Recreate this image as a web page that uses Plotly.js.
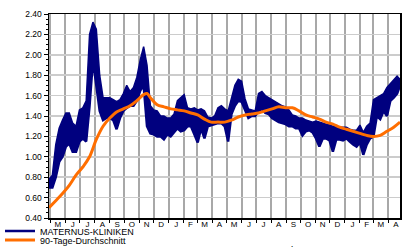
<!DOCTYPE html>
<html>
<head>
<meta charset="utf-8">
<script src="https://cdn.plot.ly/plotly-3.0.1.min.js"></script>
<style>html,body{margin:0;padding:0;background:#fff;}#chart{width:418px;height:247px;}</style>
</head>
<body>
<div id="chart"></div>
<script>
const weeks = ['2009-04-28','2009-05-05','2009-05-12','2009-05-19','2009-05-26','2009-06-02','2009-06-09','2009-06-16','2009-06-23','2009-06-30',
'2009-07-07','2009-07-14','2009-07-21','2009-07-28','2009-08-04','2009-08-11','2009-08-18','2009-08-25','2009-09-01','2009-09-08',
'2009-09-15','2009-09-22','2009-09-29','2009-10-06','2009-10-13','2009-10-20','2009-10-27','2009-11-03','2009-11-10','2009-11-17',
'2009-11-24','2009-12-01','2009-12-08','2009-12-15','2009-12-22','2009-12-29','2010-01-05','2010-01-12','2010-01-19','2010-01-26',
'2010-02-02','2010-02-09','2010-02-16','2010-02-23','2010-03-02','2010-03-09','2010-03-16','2010-03-23','2010-03-30','2010-04-06',
'2010-04-13','2010-04-20','2010-04-27','2010-05-04','2010-05-11','2010-05-18','2010-05-25','2010-06-01','2010-06-08','2010-06-15',
'2010-06-22','2010-06-29','2010-07-06','2010-07-13','2010-07-20','2010-07-27','2010-08-03','2010-08-10','2010-08-17','2010-08-24',
'2010-08-31','2010-09-07','2010-09-14','2010-09-21','2010-09-28','2010-10-05','2010-10-12','2010-10-19','2010-10-26','2010-11-02',
'2010-11-09','2010-11-16','2010-11-23','2010-11-30','2010-12-07','2010-12-14','2010-12-21','2010-12-28','2011-01-04','2011-01-11',
'2011-01-18','2011-01-25','2011-02-01','2011-02-08','2011-02-15','2011-02-22','2011-03-01','2011-03-08','2011-03-15','2011-03-22',
'2011-03-29','2011-04-05','2011-04-12','2011-04-19','2011-04-25'];

const priceHigh = [0.78,0.82,1.12,1.28,1.36,1.43,1.43,1.33,1.30,1.46,
1.48,1.55,2.20,2.32,2.25,1.80,1.58,1.58,1.58,1.56,
1.54,1.56,1.62,1.70,1.64,1.68,1.78,1.95,2.08,1.90,
1.50,1.46,1.45,1.40,1.40,1.38,1.38,1.42,1.55,1.58,
1.61,1.48,1.47,1.48,1.46,1.47,1.45,1.39,1.38,1.40,
1.48,1.50,1.47,1.45,1.58,1.70,1.76,1.74,1.57,1.47,
1.46,1.45,1.62,1.64,1.60,1.58,1.56,1.54,1.52,1.50,
1.49,1.46,1.41,1.40,1.38,1.38,1.36,1.35,1.34,1.35,
1.34,1.33,1.32,1.31,1.30,1.30,1.29,1.29,1.29,1.27,
1.26,1.26,1.31,1.24,1.30,1.33,1.56,1.58,1.60,1.62,
1.68,1.72,1.75,1.79,1.76];

const priceLow = [0.70,0.70,0.80,0.95,1.00,1.10,1.13,1.05,1.05,1.15,
1.18,1.15,1.50,1.95,1.70,1.45,1.36,1.38,1.38,1.36,
1.27,1.38,1.45,1.48,1.50,1.50,1.55,1.65,1.70,1.30,
1.23,1.22,1.20,1.20,1.17,1.22,1.20,1.24,1.28,1.25,
1.26,1.30,1.30,1.22,1.14,1.28,1.18,1.30,1.31,1.32,
1.33,1.33,1.30,1.15,1.42,1.50,1.55,1.54,1.45,1.38,
1.40,1.40,1.45,1.47,1.43,1.42,1.38,1.36,1.34,1.33,
1.32,1.30,1.30,1.28,1.28,1.21,1.25,1.26,1.24,1.18,
1.10,1.18,1.18,1.16,1.05,1.17,1.17,1.16,1.18,1.15,
1.12,1.10,1.14,1.02,1.12,1.18,1.20,1.40,1.37,1.45,
1.40,1.55,1.58,1.62,1.70];

const maDates = ['2009-04-28','2009-05-12','2009-05-26','2009-06-09','2009-06-23','2009-07-07','2009-07-21','2009-08-04','2009-08-18','2009-09-01',
'2009-09-15','2009-09-29','2009-10-13','2009-10-27','2009-11-10','2009-11-17','2009-11-24','2009-12-08','2009-12-22','2010-01-05',
'2010-01-19','2010-02-02','2010-02-16','2010-03-02','2010-03-16','2010-03-30','2010-04-13','2010-04-27','2010-05-11','2010-05-25',
'2010-06-08','2010-06-22','2010-07-06','2010-07-20','2010-08-03','2010-08-17','2010-08-31','2010-09-14','2010-09-28','2010-10-12',
'2010-10-26','2010-11-09','2010-11-23','2010-12-07','2010-12-21','2011-01-04','2011-01-18','2011-02-01','2011-02-15','2011-03-01',
'2011-03-15','2011-03-29','2011-04-12','2011-04-25'];
const maValues = [0.50,0.57,0.64,0.72,0.82,0.90,1.00,1.17,1.30,1.38,
1.44,1.47,1.50,1.55,1.61,1.62,1.58,1.51,1.49,1.47,
1.46,1.45,1.43,1.41,1.37,1.34,1.34,1.34,1.36,1.39,
1.41,1.42,1.43,1.45,1.47,1.49,1.48,1.48,1.45,1.41,
1.39,1.37,1.34,1.32,1.29,1.27,1.25,1.23,1.21,1.20,
1.21,1.25,1.29,1.34];

const monthNames = ['Jan','Feb','Mar','Apr','May','Jun','Jul','Aug','Sep','Oct','Nov','Dec'];
const monthLetters = ['J','F','M','A','M','J','J','A','S','O','N','D'];
const seriesNames = ['MATERNUS-KLINIKEN','90-Tage-Durchschnitt'];
const sourceText = 'Source: Thomson Reuters Datastream';

const alias = {};
monthNames.forEach((m,i)=>{alias[m]=monthLetters[i];});

const navy = '#00007f';
const orange = '#ff6e00';
const family = 'Liberation Sans, Arial, sans-serif';
const tickFont = {family:family, size:8.5, color:'#000'};
const legendFont = {family:family, size:9, color:'#000'};

const traces = [
  {x:weeks, y:priceLow, type:'scatter', mode:'lines', line:{color:navy,width:2.5}, name:seriesNames[0], legend:'legend', hoverinfo:'skip'},
  {x:weeks, y:priceHigh, type:'scatter', mode:'lines', fill:'tonexty', fillcolor:navy, line:{color:navy,width:1.5}, showlegend:false},
  {x:maDates, y:maValues, type:'scatter', mode:'lines', line:{color:orange,width:3,shape:'spline'}, name:seriesNames[1], legend:'legend2'}
];

const layout = {
  width:418, height:247,
  margin:{l:49, r:18, t:14, b:29, pad:0, autoexpand:false},
  paper_bgcolor:'#fff', plot_bgcolor:'#fff',
  font:tickFont,
  xaxis:{
    type:'date', range:['2009-04-28','2011-04-25'],
    tick0:'2009-05-01', dtick:'M1', tickformat:'%b', ticklabelmode:'period', labelalias:alias,
    showgrid:true, gridcolor:'#a8a8a8', gridwidth:2,
    ticks:'outside', ticklen:3, tickcolor:'#000', tickwidth:1, ticklabelstandoff:-5,
    showline:true, linecolor:'#000', linewidth:1.5, mirror:true,
    zeroline:false, tickfont:{family:family, size:8, color:'#000'}
  },
  yaxis:{
    range:[0.4,2.4], dtick:0.2, tick0:0.4, tickformat:'.2f',
    showgrid:true, gridcolor:'#cccccc', gridwidth:1.5,
    ticks:'outside', ticklen:4, tickcolor:'#000', tickwidth:1,
    minor:{dtick:0.05, ticks:'outside', ticklen:2, tickcolor:'#000', showgrid:false},
    showline:true, linecolor:'#000', linewidth:1.5, mirror:true,
    zeroline:false, tickfont:tickFont
  },
  legend:{xref:'container', yref:'container', x:0, xanchor:'left', y:0.0648, yanchor:'middle', bgcolor:'rgba(0,0,0,0)', font:legendFont, borderwidth:0},
  legend2:{xref:'container', yref:'container', x:0, xanchor:'left', y:0.0283, yanchor:'middle', bgcolor:'rgba(0,0,0,0)', font:legendFont, borderwidth:0},
  annotations:[
    {text:sourceText, xref:'paper', yref:'paper', x:0.567, y:-0.1176, xanchor:'left', yanchor:'top', showarrow:false,
     font:{family:family, size:9.5, color:'#000'}}
  ]
};

Plotly.newPlot('chart', traces, layout, {displayModeBar:false, staticPlot:true});
</script>
</body>
</html>
